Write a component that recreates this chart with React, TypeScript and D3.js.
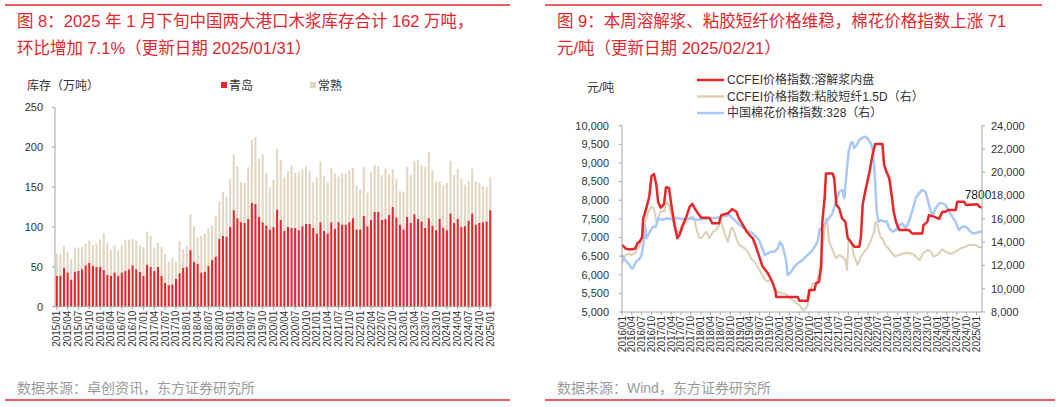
import React from 'react';
import * as d3 from 'd3';

const W = 1061;
const H = 407;
const FONT = "'Liberation Sans', Arial, 'Noto Sans CJK SC', sans-serif";
const TITLE_RED = '#e3262b';
const RED = '#e8262a';
const BEIGE = '#e2d7c2';
const BEIGE_LINE = '#dccfb6';
const BLUE = '#a8c8f6';
const AXIS = '#a6a6a6';

// ---------- Left chart: pulp inventory (万吨), monthly 2015/01 - 2025/01 ----------
const invStart = '2015-01-01';
const invEnd = '2025-01-01';
const qingdao = [
  39, 39, 49, 43, 34, 44, 45, 47, 52, 55, 51, 50,
  50, 46, 40, 39, 43, 39, 43, 45, 47, 52, 47, 44,
  39, 53, 50, 45, 50, 39, 30, 27, 28, 35, 42, 49,
  50, 71, 56, 54, 43, 44, 51, 59, 63, 85, 89, 88,
  100, 121, 111, 106, 105, 110, 130, 129, 113, 106, 102, 97,
  100, 122, 109, 95, 100, 99, 99, 96, 101, 104, 104, 99,
  92, 106, 95, 92, 106, 98, 106, 103, 103, 106, 111, 97,
  97, 114, 101, 109, 119, 119, 109, 110, 115, 125, 112, 103,
  97, 113, 105, 116, 110, 107, 99, 111, 102, 96, 110, 99,
  96, 117, 105, 110, 100, 101, 108, 117, 103, 105, 106, 107,
  121,
];
const changshu = [
  27, 27, 28, 26, 26, 30, 29, 28, 27, 28, 26, 29,
  34, 46, 40, 32, 34, 32, 34, 39, 37, 33, 36, 33,
  36, 41, 39, 29, 30, 36, 36, 30, 33, 21, 40, 23,
  27, 45, 45, 33, 46, 48, 47, 43, 51, 47, 55, 50,
  60, 70, 65, 50, 50, 65, 79, 84, 73, 85, 66, 53,
  59, 76, 75, 68, 70, 78, 69, 73, 71, 72, 66, 57,
  70, 76, 69, 64, 68, 69, 57, 64, 64, 64, 63, 55,
  50, 61, 42, 60, 59, 57, 56, 63, 51, 47, 48, 42,
  47, 62, 60, 66, 74, 71, 76, 83, 69, 61, 47, 53,
  59, 66, 60, 62, 60, 52, 49, 56, 54, 50, 45, 43,
  41,
];
const invYTicks = [0, 50, 100, 150, 200, 250];

// ---------- Right chart: prices ----------
// CCFEI 溶解浆内盘 (left axis, 元/吨)
const pulpPrice: [string, number][] = [
  ['2016-01-01', 6800], ['2016-02-05', 6700], ['2016-03-08', 6680], ['2016-05-01', 6700],
  ['2016-05-25', 6850], ['2016-06-15', 6900], ['2016-07-05', 7000], ['2016-07-15', 7500],
  ['2016-08-15', 7800], ['2016-09-10', 8100], ['2016-10-01', 8650], ['2016-10-25', 8700],
  ['2016-11-15', 8400], ['2016-12-01', 7950], ['2016-12-25', 7800], ['2017-01-25', 7900],
  ['2017-02-12', 8350], ['2017-03-12', 8330], ['2017-04-03', 7870], ['2017-05-03', 7330],
  ['2017-05-28', 6980], ['2017-06-18', 7070], ['2017-07-18', 7330], ['2017-08-20', 7560],
  ['2017-09-20', 7830], ['2017-10-15', 7900], ['2017-11-05', 7780], ['2017-12-05', 7650],
  ['2018-01-05', 7530], ['2018-03-20', 7530], ['2018-04-18', 7380], ['2018-06-18', 7380],
  ['2018-07-10', 7600], ['2018-09-10', 7650], ['2018-10-18', 7760], ['2018-11-28', 7690],
  ['2018-12-22', 7500], ['2019-01-28', 7330], ['2019-03-04', 7150], ['2019-04-12', 7020],
  ['2019-04-28', 6980], ['2019-05-28', 6750], ['2019-06-28', 6480], ['2019-07-28', 6220],
  ['2019-09-15', 6040], ['2019-11-01', 5770], ['2019-11-25', 5550], ['2019-12-01', 5400],
  ['2020-06-18', 5400], ['2020-07-03', 5300], ['2020-09-18', 5300], ['2020-10-04', 5590],
  ['2020-11-20', 5590], ['2020-12-05', 5770], ['2021-01-01', 5810], ['2021-01-22', 6220],
  ['2021-02-01', 7420], ['2021-02-22', 8050], ['2021-03-07', 8720], ['2021-05-07', 8720],
  ['2021-05-22', 8590], ['2021-06-12', 7870], ['2021-07-08', 7780], ['2021-08-03', 7510],
  ['2021-09-03', 7420], ['2021-09-25', 6980], ['2021-10-10', 6930], ['2021-11-25', 6750],
  ['2022-01-10', 6750], ['2022-01-25', 7020], ['2022-02-10', 7870], ['2022-03-05', 8230],
  ['2022-04-12', 8720], ['2022-05-12', 9210], ['2022-06-06', 9510], ['2022-08-12', 9510],
  ['2022-08-28', 8950], ['2022-09-18', 8770], ['2022-10-15', 8590], ['2022-11-10', 8050],
  ['2022-11-25', 7690], ['2022-12-16', 7420], ['2023-01-15', 7200], ['2023-04-15', 7200],
  ['2023-05-15', 7110], ['2023-08-18', 7110], ['2023-08-28', 7330], ['2023-10-03', 7420],
  ['2023-10-18', 7600], ['2023-12-03', 7560], ['2024-01-20', 7500], ['2024-02-20', 7690],
  ['2024-03-20', 7690], ['2024-04-15', 7740], ['2024-06-22', 7740], ['2024-07-06', 7960],
  ['2024-09-10', 7960], ['2024-09-25', 7870], ['2025-01-10', 7890], ['2025-01-25', 7830],
  ['2025-02-21', 7800],
];
// CCFEI 粘胶短纤1.5D (right axis)
const viscosePrice: [string, number][] = [
  ['2016-01-01', 12180], ['2016-01-28', 12800], ['2016-02-28', 13040], ['2016-03-28', 12900],
  ['2016-05-01', 13040], ['2016-05-15', 13330], ['2016-06-06', 13600], ['2016-07-01', 14180],
  ['2016-08-01', 15760], ['2016-09-01', 16620], ['2016-10-01', 17050], ['2016-10-22', 16900],
  ['2016-11-15', 15760], ['2016-12-01', 16050], ['2016-12-28', 16680], ['2017-01-25', 16620],
  ['2017-02-18', 17480], ['2017-03-12', 17190], ['2017-04-03', 16330], ['2017-04-28', 15470],
  ['2017-05-25', 14900], ['2017-06-12', 14760], ['2017-07-03', 15330], ['2017-08-20', 15760],
  ['2017-10-06', 16190], ['2017-10-28', 16190], ['2017-11-20', 15190], ['2017-12-15', 14380],
  ['2018-01-05', 14330], ['2018-02-21', 14900], ['2018-03-21', 14330], ['2018-04-24', 14900],
  ['2018-05-24', 15040], ['2018-07-09', 15760], ['2018-08-09', 14760], ['2018-09-09', 14040],
  ['2018-10-09', 15190], ['2018-10-24', 15250], ['2018-11-27', 14330], ['2018-12-21', 13760],
  ['2019-02-12', 13470], ['2019-03-12', 13180], ['2019-04-12', 12610], ['2019-05-12', 12320],
  ['2019-06-12', 11890], ['2019-07-15', 11320], ['2019-08-15', 10810], ['2019-09-15', 10600],
  ['2019-10-15', 10810], ['2019-11-15', 10040], ['2019-12-15', 9740], ['2020-01-15', 9610],
  ['2020-03-01', 9550], ['2020-04-01', 9180], ['2020-05-20', 8890], ['2020-07-03', 8600],
  ['2020-08-03', 8170], ['2020-09-03', 8320], ['2020-09-18', 8600], ['2020-10-04', 9460],
  ['2020-11-04', 10470], ['2020-12-06', 10470], ['2021-01-01', 11320], ['2021-01-22', 12900],
  ['2021-02-12', 14180], ['2021-02-22', 15190], ['2021-03-07', 16050], ['2021-03-20', 15470],
  ['2021-04-06', 14040], ['2021-05-06', 13330], ['2021-06-09', 12610], ['2021-07-09', 12900],
  ['2021-08-03', 12750], ['2021-09-03', 12470], ['2021-09-18', 11610], ['2021-10-03', 14330],
  ['2021-10-25', 14040], ['2021-11-25', 12750], ['2021-12-15', 12320], ['2021-12-25', 12040],
  ['2022-01-25', 12750], ['2022-02-25', 13180], ['2022-03-25', 13470], ['2022-04-28', 14180],
  ['2022-05-28', 14900], ['2022-06-08', 15760], ['2022-06-28', 15470], ['2022-07-28', 14330],
  ['2022-08-12', 14330], ['2022-09-06', 13760], ['2022-10-06', 13470], ['2022-11-10', 13040],
  ['2022-12-10', 12750], ['2023-01-15', 12900], ['2023-03-01', 13040], ['2023-04-15', 13090],
  ['2023-06-03', 12900], ['2023-07-03', 12610], ['2023-07-25', 12470], ['2023-08-25', 13040],
  ['2023-10-03', 13330], ['2023-11-03', 13180], ['2023-12-03', 12750], ['2024-01-03', 12900],
  ['2024-02-20', 13390], ['2024-03-20', 13180], ['2024-05-06', 12980], ['2024-06-22', 13180],
  ['2024-08-09', 13470], ['2024-09-25', 13610], ['2024-10-25', 13760], ['2024-12-25', 13760],
  ['2025-01-25', 13560], ['2025-02-21', 13600],
];
// 中国棉花价格指数:328 (right axis)
const cottonPrice: [string, number][] = [
  ['2016-01-01', 12900], ['2016-01-28', 12470], ['2016-02-28', 12180], ['2016-03-28', 11750],
  ['2016-04-12', 11750], ['2016-05-10', 12320], ['2016-06-15', 12610], ['2016-07-01', 12900],
  ['2016-07-22', 14180], ['2016-08-01', 15470], ['2016-08-15', 14330], ['2016-09-15', 14900],
  ['2016-10-15', 15330], ['2016-11-10', 15330], ['2016-12-01', 16050], ['2017-01-03', 15900],
  ['2017-02-18', 16050], ['2017-04-03', 15990], ['2017-05-18', 16100], ['2017-07-03', 15990],
  ['2017-08-21', 15990], ['2017-10-06', 16050], ['2017-11-21', 15900], ['2018-01-21', 15990],
  ['2018-03-21', 16050], ['2018-05-24', 16100], ['2018-07-24', 16190], ['2018-09-24', 16330],
  ['2018-10-24', 16050], ['2018-12-27', 15470], ['2019-02-27', 15040], ['2019-04-27', 14760],
  ['2019-06-12', 14330], ['2019-06-27', 14180], ['2019-07-24', 13470], ['2019-08-15', 12900],
  ['2019-09-15', 13040], ['2019-10-15', 13180], ['2019-11-15', 13180], ['2019-12-15', 13470],
  ['2020-01-06', 14040], ['2020-02-01', 13610], ['2020-03-01', 12470], ['2020-03-16', 11180],
  ['2020-04-18', 11460], ['2020-05-18', 11890], ['2020-06-18', 12180], ['2020-08-03', 12470],
  ['2020-09-18', 12900], ['2020-11-04', 13330], ['2020-12-19', 14040], ['2021-01-06', 15040],
  ['2021-03-06', 15700], ['2021-05-06', 16470], ['2021-06-06', 17470], ['2021-07-09', 18330],
  ['2021-08-06', 18480], ['2021-08-24', 17770], ['2021-09-09', 19480], ['2021-10-03', 21770],
  ['2021-10-24', 22490], ['2021-11-09', 22600], ['2021-11-24', 22060], ['2021-12-15', 22300],
  ['2022-01-09', 22780], ['2022-02-27', 23060], ['2022-03-27', 22920], ['2022-04-27', 22490],
  ['2022-05-18', 21770], ['2022-06-06', 19190], ['2022-06-21', 16620], ['2022-07-06', 15760],
  ['2022-08-01', 15900], ['2022-08-28', 15760], ['2022-09-21', 15800], ['2022-10-15', 15190],
  ['2022-11-15', 14900], ['2022-12-15', 15040], ['2023-01-15', 15470], ['2023-02-15', 15600],
  ['2023-03-15', 15190], ['2023-04-15', 15760], ['2023-05-15', 16620], ['2023-06-18', 17770],
  ['2023-07-18', 18200], ['2023-08-18', 18480], ['2023-09-15', 18330], ['2023-10-03', 17770],
  ['2023-11-03', 16620], ['2023-11-24', 16330], ['2023-12-18', 16910], ['2024-01-21', 17340],
  ['2024-02-21', 17340], ['2024-03-21', 17190], ['2024-04-21', 16620], ['2024-05-21', 16190],
  ['2024-06-21', 15760], ['2024-07-21', 15040], ['2024-08-21', 15330], ['2024-09-24', 15330],
  ['2024-10-24', 15040], ['2024-11-24', 14760], ['2024-12-24', 14760], ['2025-01-24', 14900],
  ['2025-02-21', 14900],
];
const priceLeftTicks = [5000, 5500, 6000, 6500, 7000, 7500, 8000, 8500, 9000, 9500, 10000];
const priceRightTicks = [8000, 10000, 12000, 14000, 16000, 18000, 20000, 22000, 24000];
const priceStart = '2016-01-01';
const priceEnd = '2025-02-21';
const lastLabel = '7800';

const legendItems = [
  { name: 'CCFEI价格指数:溶解浆内盘', color: RED },
  { name: 'CCFEI价格指数:粘胶短纤1.5D（右）', color: BEIGE_LINE },
  { name: '中国棉花价格指数:328（右）', color: BLUE },
];

const parse = d3.timeParse('%Y-%m-%d');
const fmtMonth = d3.timeFormat('%Y/%m');
const fmtComma = d3.format(',');

function LeftPanel() {
  const months = d3.timeMonth.range(parse(invStart)!, d3.timeMonth.offset(parse(invEnd)!, 1));
  const cats = months.map((m) => fmtMonth(m));
  const x = d3.scaleBand<string>().domain(cats).range([55, 492]).paddingInner(0.42).paddingOuter(0.2);
  const y = d3.scaleLinear().domain([0, 250]).range([306.7, 107.3]);
  const bw = x.bandwidth();
  return (
    <g>
      {/* title */}
      <line x1={5} x2={510} y1={5} y2={5} stroke={TITLE_RED} strokeWidth={1.5} />
      <text x={17} y={27} fontSize={16.5} fill={TITLE_RED} fontFamily={FONT}>
        图 8：2025 年 1 月下旬中国两大港口木浆库存合计 162 万吨，
      </text>
      <text x={17} y={54} fontSize={16.5} fill={TITLE_RED} fontFamily={FONT}>
        环比增加 7.1%（更新日期 2025/01/31）
      </text>
      {/* y title */}
      <text x={27} y={90} fontSize={12} fill="#333" fontFamily={FONT}>库存（万吨）</text>
      {/* legend */}
      <rect x={221} y={82} width={6} height={6} fill={RED} />
      <text x={229} y={90} fontSize={12} fill="#333" fontFamily={FONT}>青岛</text>
      <rect x={310} y={82} width={6} height={6} fill={BEIGE} />
      <text x={318} y={90} fontSize={12} fill="#333" fontFamily={FONT}>常熟</text>
      {/* bars */}
      {cats.map((c, i) => (
        <g key={c}>
          <rect x={x(c)!} width={bw} y={y(qingdao[i])} height={y(0) - y(qingdao[i])} fill={RED} />
          <rect
            x={x(c)!}
            width={bw}
            y={y(qingdao[i] + changshu[i])}
            height={y(qingdao[i]) - y(qingdao[i] + changshu[i])}
            fill={BEIGE}
          />
        </g>
      ))}
      {/* y axis */}
      <line x1={55} x2={55} y1={y(250)} y2={y(0)} stroke={AXIS} strokeWidth={1} />
      {invYTicks.map((t) => (
        <g key={t}>
          <line x1={52} x2={55} y1={y(t)} y2={y(t)} stroke={AXIS} />
          <text x={43} y={y(t)} dy="0.35em" textAnchor="end" fontSize={11} fill="#333" fontFamily={FONT}>
            {t}
          </text>
        </g>
      ))}
      {/* x axis */}
      <line x1={55} x2={492} y1={y(0)} y2={y(0)} stroke={AXIS} strokeWidth={1} />
      {cats.map((c, i) =>
        i % 3 === 0 ? (
          <g key={'t' + c}>
            <line x1={x(c)! + bw / 2} x2={x(c)! + bw / 2} y1={y(0)} y2={y(0) + 3} stroke={AXIS} />
            <text
              transform={`translate(${x(c)! + bw / 2},${y(0) + 4}) rotate(-90)`}
              dy="0.35em"
              textAnchor="end"
              fontSize={10}
              fill="#333"
              fontFamily={FONT}
            >
              {c}
            </text>
          </g>
        ) : null
      )}
      {/* footer */}
      <text x={17} y={393} fontSize={14} fill="#9a9a9a" fontFamily={FONT}>数据来源：卓创资讯，东方证券研究所</text>
      <line x1={5} x2={510} y1={400} y2={400} stroke={TITLE_RED} strokeWidth={1.5} />
    </g>
  );
}

function RightPanel() {
  const x = d3.scaleTime().domain([parse(priceStart)!, parse(priceEnd)!]).range([622, 982]);
  const yL = d3.scaleLinear().domain([5000, 10000]).range([312, 125.7]);
  const yR = d3.scaleLinear().domain([8000, 24000]).range([312, 125.7]);
  const lineL = d3.line<[string, number]>().x((d) => x(parse(d[0])!)).y((d) => yL(d[1]));
  const lineR = d3.line<[string, number]>().x((d) => x(parse(d[0])!)).y((d) => yR(d[1]));
  const ticks = d3.timeMonth.range(parse(priceStart)!, parse('2025-01-02')!, 3);
  const last = pulpPrice[pulpPrice.length - 1];
  return (
    <g>
      <line x1={545} x2={1042} y1={5} y2={5} stroke={TITLE_RED} strokeWidth={1.5} />
      <text x={557} y={27} fontSize={16.5} fill={TITLE_RED} fontFamily={FONT}>
        图 9：本周溶解浆、粘胶短纤价格维稳，棉花价格指数上涨 71
      </text>
      <text x={557} y={54} fontSize={16.5} fill={TITLE_RED} fontFamily={FONT}>
        元/吨（更新日期 2025/02/21）
      </text>
      <text x={587} y={92} fontSize={12} fill="#333" fontFamily={FONT}>元/吨</text>
      {legendItems.map((l, i) => (
        <g key={l.name}>
          <line x1={697} x2={724} y1={80 + i * 16.5} y2={80 + i * 16.5} stroke={l.color} strokeWidth={2.5} />
          <text x={727} y={80 + i * 16.5} dy="0.35em" fontSize={12} fill="#333" fontFamily={FONT}>
            {l.name}
          </text>
        </g>
      ))}
      {/* lines */}
      <path d={lineR(viscosePrice)!} fill="none" stroke={BEIGE_LINE} strokeWidth={2} strokeLinejoin="round" />
      <path d={lineR(cottonPrice)!} fill="none" stroke={BLUE} strokeWidth={2.5} strokeLinejoin="round" />
      <path d={lineL(pulpPrice)!} fill="none" stroke={RED} strokeWidth={2.5} strokeLinejoin="round" />
      <text
        x={x(parse(last[0])!) - 4}
        y={yL(last[1]) - 13}
        textAnchor="middle"
        dy="0.35em"
        fontSize={12}
        fill="#222"
        fontFamily={FONT}
      >
        {lastLabel}
      </text>
      {/* axes */}
      <line x1={622} x2={622} y1={125.7} y2={312} stroke={AXIS} />
      <line x1={982} x2={982} y1={125.7} y2={312} stroke={AXIS} />
      <line x1={622} x2={982} y1={312} y2={312} stroke={AXIS} />
      {priceLeftTicks.map((t) => (
        <g key={t}>
          <line x1={619} x2={622} y1={yL(t)} y2={yL(t)} stroke={AXIS} />
          <text x={609} y={yL(t)} dy="0.35em" textAnchor="end" fontSize={11} fill="#333" fontFamily={FONT}>
            {fmtComma(t)}
          </text>
        </g>
      ))}
      {priceRightTicks.map((t) => (
        <g key={t}>
          <line x1={982} x2={985} y1={yR(t)} y2={yR(t)} stroke={AXIS} />
          <text x={991} y={yR(t)} dy="0.35em" textAnchor="start" fontSize={11} fill="#333" fontFamily={FONT}>
            {fmtComma(t)}
          </text>
        </g>
      ))}
      {ticks.map((t) => (
        <g key={t.toISOString()}>
          <line x1={x(t)} x2={x(t)} y1={312} y2={315} stroke={AXIS} />
          <text
            transform={`translate(${x(t)},${316}) rotate(-90)`}
            dy="0.35em"
            textAnchor="end"
            fontSize={10}
            fill="#333"
            fontFamily={FONT}
          >
            {fmtMonth(t)}
          </text>
        </g>
      ))}
      <text x={557} y={393} fontSize={14} fill="#9a9a9a" fontFamily={FONT}>数据来源：Wind，东方证券研究所</text>
      <line x1={545} x2={1055} y1={400} y2={400} stroke={TITLE_RED} strokeWidth={1.5} />
    </g>
  );
}

export default function App() {
  return (
    <svg width={W} height={H} style={{ display: 'block', position: 'absolute', left: 0, top: 0, background: '#fff' }}>
      <LeftPanel />
      <RightPanel />
    </svg>
  );
}
